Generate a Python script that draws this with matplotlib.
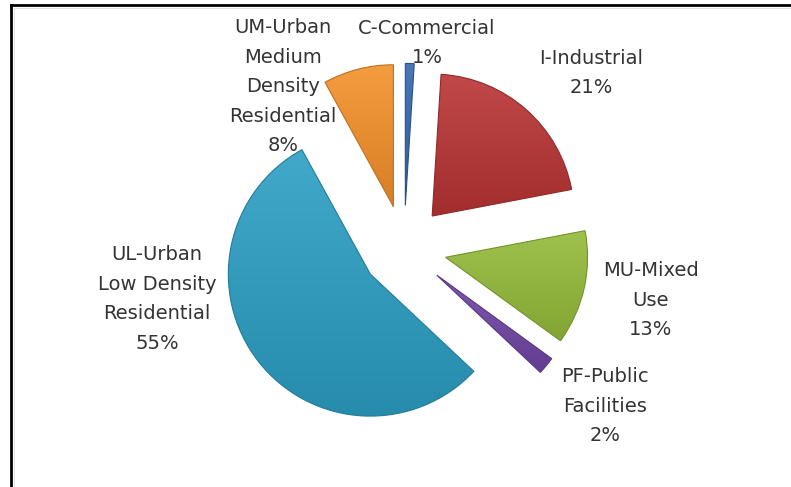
"""Exploded land-use pie chart, Excel style, rendered to out.png."""
import numpy as np
import matplotlib

matplotlib.use("Agg")
import matplotlib.pyplot as plt
from matplotlib.colors import to_rgb
from matplotlib.lines import Line2D

categories = ["C-Commercial", "I-Industrial", "MU-Mixed Use", "PF-Public Facilities",
              "UL-Urban Low Density Residential", "UM-Urban Medium Density Residential"]
label_text = ["C-Commercial", "I-Industrial", "MU-Mixed\nUse", "PF-Public\nFacilities",
              "UL-Urban\nLow Density\nResidential", "UM-Urban\nMedium\nDensity\nResidential"]
shares = [1, 21, 13, 2, 55, 8]

COLORS = ["#3568b0", "#b93434", "#94bb3a", "#7146a6", "#2c9fc4", "#f4902a"]
INK = "#333333"

W, H = 791, 487
CX, CY, R = 404, 248, 142   # pie centre and radius, in pixels


def px(x, y):
    """Pixel position (from top-left) -> data coords."""
    return (x - CX) / R, (CY - y) / R


# label centres in pixels
LABEL_POS = [(427, 43), (591, 73), (651, 300), (605, 406), (157, 299), (283, 87)]


def shade(c, f):
    c = np.array(to_rgb(c))
    if f >= 0:
        return tuple(c + (1 - c) * f)
    return tuple(c * (1 + f))


fig = plt.figure(figsize=(W / 100, H / 100), dpi=100)
fig.patch.set_facecolor("white")
ax = fig.add_axes([0, 0, 1, 1])
ax.set_axis_off()

wedges, _ = ax.pie(shares, colors=COLORS, explode=[0.3] * len(shares),
                   startangle=90, counterclock=False, radius=1,
                   wedgeprops=dict(linewidth=0.8))

# gradient fill clipped to each wedge for the bevelled Excel look
for w, c in zip(wedges, COLORS):
    w.set_edgecolor(shade(c, -0.22))
    bb = w.get_path().get_extents(w.get_transform() - ax.transData)
    top, bot = np.array(shade(c, 0.1)), np.array(shade(c, -0.12))
    t = np.linspace(0, 1, 64)[:, None]
    grad = top * (1 - t) + bot * t
    img = np.repeat(grad[:, None, :], 2, axis=1)
    im = ax.imshow(img, extent=(bb.x0, bb.x1, bb.y0, bb.y1), origin="upper",
                   aspect="auto", zorder=w.get_zorder(), interpolation="bilinear")
    im.set_clip_path(w)
    w.set_zorder(w.get_zorder() + 0.1)
    w.set_facecolor("none")

for txt, v, (lx, ly) in zip(label_text, shares, LABEL_POS):
    x, y = px(lx, ly)
    ax.text(x, y, f"{txt}\n{v}%", ha="center", va="center", fontsize=14,
            family="DejaVu Sans", color=INK, linespacing=1.7)

ax.set_xlim(-CX / R, (W - CX) / R)
ax.set_ylim((CY - H) / R, CY / R)
ax.set_aspect("auto")

# chart frame (only top and left edges show in the crop)
fig.add_artist(Line2D([11 / W, 1], [1 - 5 / H, 1 - 5 / H], color="black", lw=2, transform=fig.transFigure))
fig.add_artist(Line2D([11 / W, 11 / W], [0, 1 - 5 / H], color="black", lw=2, transform=fig.transFigure))
fig.add_artist(Line2D([14 / W, 1], [1 - 8 / H, 1 - 8 / H], color="#e3e3e3", lw=0.8, transform=fig.transFigure))
fig.add_artist(Line2D([14 / W, 14 / W], [0, 1 - 8 / H], color="#e3e3e3", lw=0.8, transform=fig.transFigure))

fig.savefig("out.png", dpi=100, facecolor="white")
